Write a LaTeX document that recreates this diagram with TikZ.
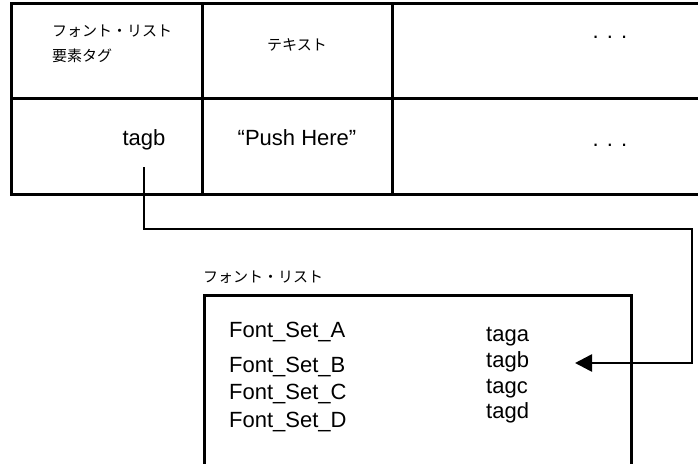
\documentclass[tikz,border=0pt]{standalone}
\usepackage{fontspec}
\setmainfont{Liberation Sans}
\newfontfamily\jpfont{Noto Sans CJK JP}
\usetikzlibrary{arrows.meta}
\begin{document}
\begin{tikzpicture}[x=1pt,y=-1pt,
  frame/.style={line width=3pt},
  conn/.style={line width=2.6pt},
  latin/.style={inner sep=0pt,font=\fontsize{22}{26}\selectfont},
  jp/.style={inner sep=0pt,font=\fontsize{15}{18}\jpfont},
  arr/.style={-{Triangle[length=17pt,width=17pt]}}]
\useasboundingbox (0,0) rectangle (698,463);
% table
\draw[frame] (705,3) -- (11,3) -- (11,194) -- (705,194);
\draw[frame] (11,98) -- (705,98);
\draw[frame] (202,3) -- (202,194);
\draw[frame] (392,3) -- (392,194);
% table texts
\node[jp,anchor=west,align=left] (hdr1) at (52,44) {フォント・リスト\\[7pt]要素タグ};
\node[jp] (hdr2) at (297,45) {テキスト};
\node[latin,anchor=base] (hdr3) at (610,38) {. . .};
\node[latin] (tagb) at (144,140) {tagb};
\node[latin] (push) at (297,138) {“Push Here”};
\node[latin,anchor=base] (dots2) at (610,146) {. . .};
% font list
\node[jp,anchor=west] (fllabel) at (203,277) {フォント・リスト};
\draw[frame] (204,470) -- (204,295) -- (631,295) -- (631,470);
\node[latin,anchor=base west] (fsa) at (229,337) {Font\_Set\_A};
\node[latin,anchor=base west] (fsb) at (229,372) {Font\_Set\_B};
\node[latin,anchor=base west] (fsc) at (229,399) {Font\_Set\_C};
\node[latin,anchor=base west] (fsd) at (229,427) {Font\_Set\_D};
\node[latin,anchor=base west] (ta) at (486,341) {taga};
\node[latin,anchor=base west] (tb) at (486,367) {tagb};
\node[latin,anchor=base west] (tc) at (486,393) {tagc};
\node[latin,anchor=base west] (td) at (486,418) {tagd};
% connector
\coordinate (c0) at (144,167);
\coordinate (c1) at (692,229);
\coordinate (tip) at (575,363);
\draw[conn,arr] (c0) |- (c1) |- (tip);
\end{tikzpicture}
\end{document}
